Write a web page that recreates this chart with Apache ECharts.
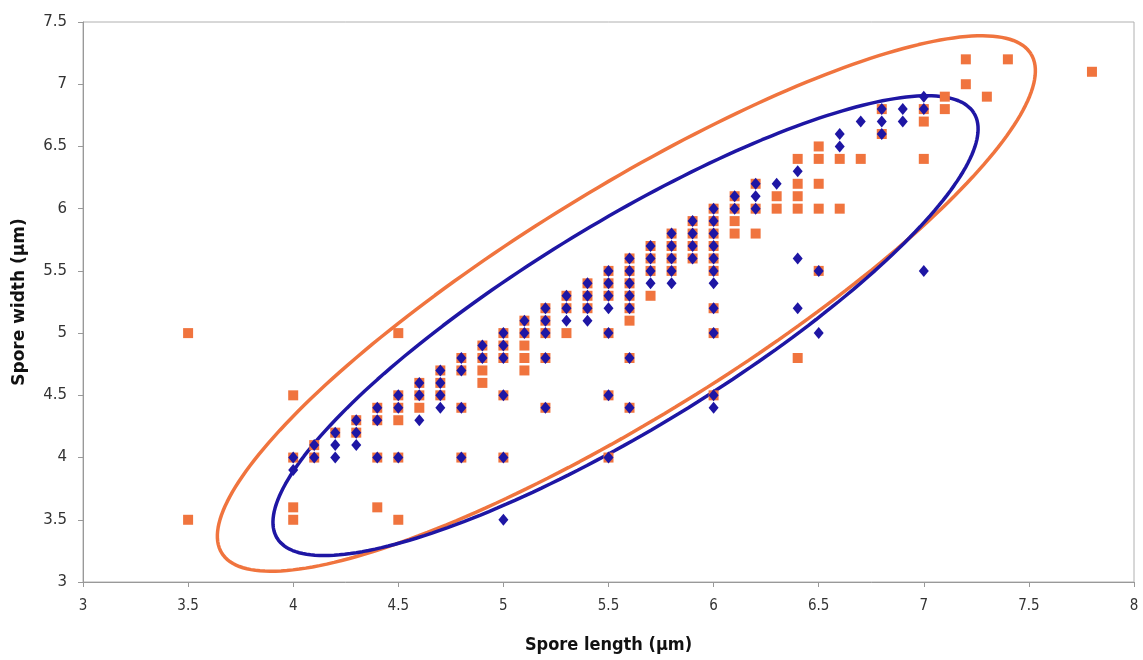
<!DOCTYPE html>
<html>
<head>
<meta charset="utf-8">
<script src="https://cdn.jsdelivr.net/npm/echarts@6/dist/echarts.min.js"></script>
<style>html,body{margin:0;padding:0;background:#fff}#c{width:1143px;height:660px}</style>
</head>
<body>
<div id="c"></div>
<script>
// Orange squares [length, width]
const orangePoints = [
  [3.5,5.0],[3.5,3.5],
  [4.0,4.5],[4.0,4.0],[4.0,3.6],[4.0,3.5],
  [4.1,4.1],[4.1,4.0],
  [4.2,4.2],
  [4.3,4.3],[4.3,4.2],
  [4.4,4.4],[4.4,4.3],[4.4,4.0],[4.4,3.6],
  [4.5,5.0],[4.5,4.5],[4.5,4.4],[4.5,4.3],[4.5,4.0],[4.5,3.5],
  [4.6,4.6],[4.6,4.5],[4.6,4.4],
  [4.7,4.7],[4.7,4.6],[4.7,4.5],
  [4.8,4.8],[4.8,4.7],[4.8,4.4],[4.8,4.0],
  [4.9,4.9],[4.9,4.8],[4.9,4.7],[4.9,4.6],
  [5.0,5.0],[5.0,4.9],[5.0,4.8],[5.0,4.5],[5.0,4.0],
  [5.1,5.1],[5.1,5.0],[5.1,4.9],[5.1,4.8],[5.1,4.7],
  [5.2,5.2],[5.2,5.1],[5.2,5.0],[5.2,4.8],[5.2,4.4],
  [5.3,5.3],[5.3,5.2],[5.3,5.0],
  [5.4,5.4],[5.4,5.3],[5.4,5.2],
  [5.5,5.5],[5.5,5.4],[5.5,5.3],[5.5,5.0],[5.5,4.5],[5.5,4.0],
  [5.6,5.6],[5.6,5.5],[5.6,5.4],[5.6,5.3],[5.6,5.2],[5.6,5.1],[5.6,4.8],[5.6,4.4],
  [5.7,5.7],[5.7,5.6],[5.7,5.5],[5.7,5.3],
  [5.8,5.8],[5.8,5.7],[5.8,5.6],[5.8,5.5],
  [5.9,5.9],[5.9,5.8],[5.9,5.7],[5.9,5.6],
  [6.0,6.0],[6.0,5.9],[6.0,5.8],[6.0,5.7],[6.0,5.6],[6.0,5.5],[6.0,5.2],[6.0,5.0],[6.0,4.5],
  [6.1,6.1],[6.1,6.0],[6.1,5.9],[6.1,5.8],
  [6.2,6.2],[6.2,6.0],[6.2,5.8],
  [6.3,6.1],[6.3,6.0],
  [6.4,6.4],[6.4,6.2],[6.4,6.1],[6.4,6.0],[6.4,4.8],
  [6.5,6.5],[6.5,6.4],[6.5,6.2],[6.5,6.0],[6.5,5.5],
  [6.6,6.4],[6.6,6.0],
  [6.7,6.4],
  [6.8,6.8],[6.8,6.6],
  [7.0,6.8],[7.0,6.7],[7.0,6.4],
  [7.1,6.9],[7.1,6.8],
  [7.2,7.2],[7.2,7.0],
  [7.3,6.9],
  [7.4,7.2],
  [7.8,7.1]
];
// Blue diamonds [length, width]
const bluePoints = [
  [4.0,4.0],[4.0,3.9],
  [4.1,4.1],[4.1,4.0],
  [4.2,4.2],[4.2,4.1],[4.2,4.0],
  [4.3,4.3],[4.3,4.2],[4.3,4.1],
  [4.4,4.4],[4.4,4.3],[4.4,4.0],
  [4.5,4.5],[4.5,4.4],[4.5,4.0],
  [4.6,4.6],[4.6,4.5],[4.6,4.3],
  [4.7,4.7],[4.7,4.6],[4.7,4.5],[4.7,4.4],
  [4.8,4.8],[4.8,4.7],[4.8,4.4],[4.8,4.0],
  [4.9,4.9],[4.9,4.8],
  [5.0,5.0],[5.0,4.9],[5.0,4.8],[5.0,4.5],[5.0,4.0],[5.0,3.5],
  [5.1,5.1],[5.1,5.0],
  [5.2,5.2],[5.2,5.1],[5.2,5.0],[5.2,4.8],[5.2,4.4],
  [5.3,5.3],[5.3,5.2],[5.3,5.1],
  [5.4,5.4],[5.4,5.3],[5.4,5.2],[5.4,5.1],
  [5.5,5.5],[5.5,5.4],[5.5,5.3],[5.5,5.2],[5.5,5.0],[5.5,4.5],[5.5,4.0],
  [5.6,5.6],[5.6,5.5],[5.6,5.4],[5.6,5.3],[5.6,5.2],[5.6,4.8],[5.6,4.4],
  [5.7,5.7],[5.7,5.6],[5.7,5.5],[5.7,5.4],
  [5.8,5.8],[5.8,5.7],[5.8,5.6],[5.8,5.5],[5.8,5.4],
  [5.9,5.9],[5.9,5.8],[5.9,5.7],[5.9,5.6],
  [6.0,6.0],[6.0,5.9],[6.0,5.8],[6.0,5.7],[6.0,5.6],[6.0,5.5],[6.0,5.4],[6.0,5.2],[6.0,5.0],[6.0,4.5],[6.0,4.4],
  [6.1,6.1],[6.1,6.0],
  [6.2,6.2],[6.2,6.1],[6.2,6.0],
  [6.3,6.2],
  [6.4,6.3],[6.4,5.6],[6.4,5.2],
  [6.5,5.5],[6.5,5.0],
  [6.6,6.6],[6.6,6.5],
  [6.7,6.7],
  [6.8,6.8],[6.8,6.7],[6.8,6.6],
  [6.9,6.8],[6.9,6.7],
  [7.0,6.9],[7.0,6.8],[7.0,5.5]
];
// Ellipse outlines: [centerX, centerY, Ax, Bx, Ay, By] (x = cx + Ax cos t + Bx sin t, y = cy + Ay cos t + By sin t)
const orangeEllipse = [5.585, 5.238, 1.925, -0.284, 2.005, 0.780];
const blueEllipse = [5.581, 5.060, 1.658, -0.254, 1.707, 0.706];
const xTicks = [3, 3.5, 4, 4.5, 5, 5.5, 6, 6.5, 7, 7.5, 8];
const yTicks = [3, 3.5, 4, 4.5, 5, 5.5, 6, 6.5, 7, 7.5];

function ellipsePts(e) {
  const pts = [];
  const n = 240;
  for (let i = 0; i <= n; i++) {
    const t = 2 * Math.PI * i / n;
    pts.push([e[0] + e[2] * Math.cos(t) + e[3] * Math.sin(t), e[1] + e[4] * Math.cos(t) + e[5] * Math.sin(t)]);
  }
  return pts;
}

const ORANGE = '#f0743e';
const BLUE = '#1e16a4';
const chart = echarts.init(document.getElementById('c'));
chart.setOption({
  animation: false,
  backgroundColor: '#fff',
  grid: { left: 83, right: 9, top: 22, bottom: 78, show: true, borderColor: '#b0b0b0', borderWidth: 1 },
  xAxis: {
    type: 'value', min: xTicks[0], max: xTicks[xTicks.length - 1], interval: 0.5,
    name: 'Spore length (\u00b5m)', nameLocation: 'middle', nameGap: 54,
    nameTextStyle: { fontFamily: 'DejaVu Sans Condensed', fontWeight: 'bold', fontSize: 18, color: '#111' },
    axisLine: { lineStyle: { color: '#999' } },
    axisTick: { show: true, length: 5, lineStyle: { color: '#999' } },
    axisLabel: { fontFamily: 'DejaVu Sans Condensed', fontSize: 15, color: '#333', margin: 17 },
    splitLine: { show: false }
  },
  yAxis: {
    type: 'value', min: yTicks[0], max: yTicks[yTicks.length - 1], interval: 0.5,
    name: 'Spore width (\u00b5m)', nameLocation: 'middle', nameGap: 55,
    nameTextStyle: { fontFamily: 'DejaVu Sans', fontWeight: 'bold', fontSize: 17, color: '#111' },
    axisLine: { show: true, lineStyle: { color: '#999' } },
    axisTick: { show: true, length: 5, lineStyle: { color: '#999' } },
    axisLabel: { fontFamily: 'DejaVu Sans', fontSize: 15, color: '#333', margin: 16 },
    splitLine: { show: false }
  },
  series: [
    { type: 'line', data: ellipsePts(orangeEllipse), showSymbol: false, symbol: 'none', smooth: false,
      lineStyle: { color: ORANGE, width: 3.5 }, z: 1, silent: true },
    { type: 'line', data: ellipsePts(blueEllipse), showSymbol: false, symbol: 'none', smooth: false,
      lineStyle: { color: BLUE, width: 3.5 }, z: 2, silent: true },
    { type: 'scatter', data: orangePoints, symbol: 'rect', symbolSize: 10,
      itemStyle: { color: ORANGE, opacity: 1 }, z: 3 },
    { type: 'scatter', data: bluePoints, symbol: 'diamond', symbolSize: [10, 12],
      itemStyle: { color: BLUE, opacity: 1 }, z: 4 }
  ]
});
</script>
</body>
</html>
